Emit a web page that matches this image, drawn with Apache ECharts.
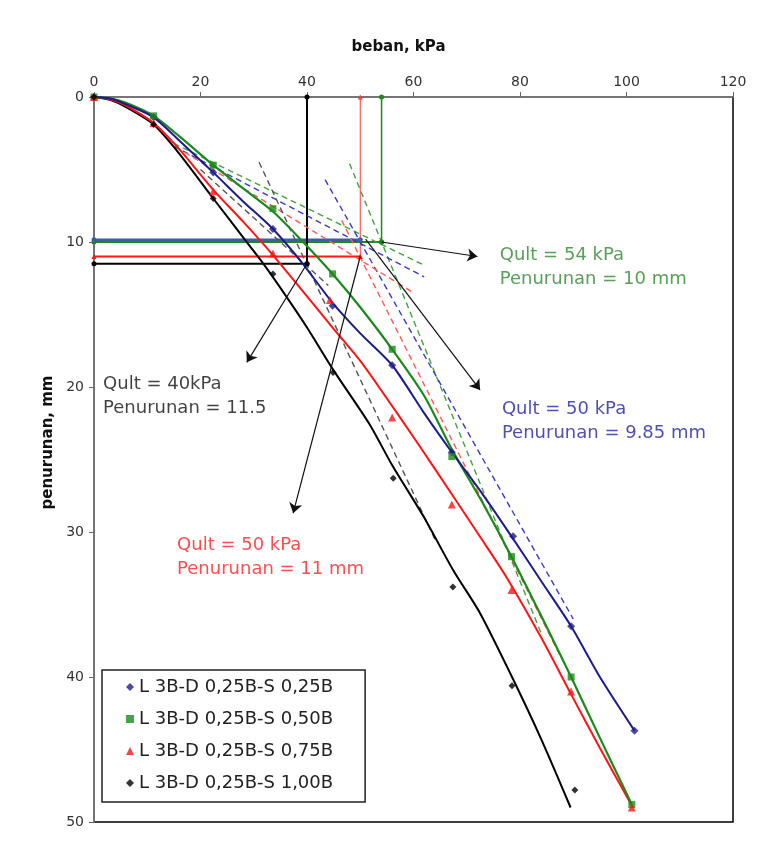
<!DOCTYPE html>
<html><head><meta charset="utf-8">
<script src="https://cdn.jsdelivr.net/npm/echarts@6/dist/echarts.min.js"></script>
<style>html,body{margin:0;padding:0;background:#fff}#c{width:771px;height:855px}</style>
</head><body><div id="c"></div><script>
// ---- data ----
const seriesNames = ['L 3B-D 0,25B-S 0,25B','L 3B-D 0,25B-S 0,50B','L 3B-D 0,25B-S 0,75B','L 3B-D 0,25B-S 1,00B'];
const xTicks = [0,20,40,60,80,100,120];
const yTicks = [0,10,20,30,40,50];

// measured curves (load kPa, settlement mm)
const blueLine  = [[0,0],[3,0.1],[6,0.5],[11.2,1.4],[16,3.0],[22.4,5.2],[28,7.2],[33.6,9.1],[39,11.4],[44.8,14.2],[50,16.3],[56,18.5],[62,21.8],[67.2,24.5],[73,27.4],[78.4,30.3],[84,33.4],[89.6,36.5],[95,40.0],[101.5,43.7]];
const greenLine = [[0,0],[3,0.1],[6,0.4],[11.2,1.3],[16,2.7],[22.4,4.7],[28,6.3],[33.6,7.9],[39,9.9],[44.8,12.2],[50,14.5],[56,17.4],[62,20.6],[67.2,24.3],[73,28.0],[78.4,31.7],[84,35.8],[89.6,40.0],[95,44.2],[101,48.8]];
const redLine   = [[0,0],[3,0.15],[6,0.6],[11.2,1.8],[16,3.6],[22.4,6.4],[28,8.6],[33.6,10.9],[39,13.3],[44.8,15.9],[50,18.2],[53.7,20.1],[61.2,24.1],[67.2,27.4],[73,30.6],[77.6,33.2],[84,37.3],[89.6,41.2],[95,44.9],[101.2,49]];
const blackLine = [[0,0],[3,0.2],[6,0.7],[11.2,1.9],[16,3.9],[22.4,7.0],[29.3,10.3],[32,11.6],[36,13.7],[40,15.9],[44.9,18.8],[51.8,22.6],[56,25.4],[62,29.0],[67.4,32.6],[72.5,35.6],[78.5,40.0],[84,44.3],[89.5,49]];

const blueMarks  = [[0,0],[11.2,1.4],[22.4,5.2],[33.6,9.1],[44.8,14.4],[56,18.5],[67.2,24.5],[78.7,30.3],[89.6,36.5],[101.5,43.7]];
const greenMarks = [[0,0],[11.2,1.3],[22.4,4.7],[33.6,7.7],[44.8,12.2],[56,17.4],[67.2,24.8],[78.4,31.7],[89.6,40],[101,48.8]];
const redMarks   = [[0,0],[11.2,1.8],[22.4,6.5],[33.6,10.8],[44.3,14.0],[56,22.1],[67.2,28.1],[78.4,34],[89.6,41],[101,49]];
const blackMarks = [[0,0],[11.2,1.9],[22.4,7],[33.6,12.2],[44.9,19],[56.2,26.3],[67.4,33.8],[78.5,40.6],[90.3,47.8]];

// tangent (dashed) construction lines
const greenShallow = [[15,3.2],[62,11.6]];
const greenSteep   = [[48,4.6],[84,37]];
const blueShallow  = [[15,3.4],[62,12.4]];
const blueSteep    = [[43.4,5.7],[90,36]];
const redShallow   = [[17,3.8],[60,13.5]];
const redSteep     = [[46.5,8.5],[87.5,38.5]];
const blackShallow = [[20,5],[44,13]];
const blackSteep   = [[31,4.5],[64,30.5]];

// ultimate load read-off (Qult kPa, settlement mm)
const qultGreen = [54, 10];
const qultBlue  = [50, 9.85];
const qultRed   = [50, 11];
const qultBlack = [40, 11.5];

// annotation arrows (from -> to)
const arrowGreen = [[54,10],[72,11]];
const arrowBlue  = [[51,9.8],[72.5,20.2]];
const arrowBlack = [[40,11.5],[28.7,18.3]];
const arrowRed   = [[50,11],[37.4,28.7]];

// annotation texts and anchors
const textGreen = 'Qult = 54 kPa\nPenurunan = 10 mm';
const textBlue  = 'Qult = 50 kPa\nPenurunan = 9.85 mm';
const textBlack = 'Qult = 40kPa\nPenurunan = 11.5';
const textRed   = 'Qult = 50 kPa\nPenurunan = 11 mm';
const anchorGreen = [76.2,10.1];
const anchorBlue  = [76.6,20.7];
const anchorBlack = [1.7,19.0];
const anchorRed   = [15.6,30.1];

// ---- styles ----
const FONT = 'DejaVu Sans';
const C = {blue:'#1c1c8c', green:'#1a8a1a', red:'#ff1414', black:'#000000', refBlue:'#3b5ea8'};

function lineS(data, color, width){
  return {type:'line', data, showSymbol:false, symbol:'none', silent:true, z:3, smooth:0.25,
    lineStyle:{color, width}, legendHoverLink:false};
}
function dashS(data, color){
  return {type:'line', data, showSymbol:false, symbol:'none', silent:true, z:2,
    lineStyle:{color, width:1.4, type:[6,4]}};
}
function refS(data, color, width, sym){
  return {type:'line', data, symbol:sym||'circle', symbolSize:5, showSymbol:true, silent:true, z:2,
    itemStyle:{color}, lineStyle:{color, width}};
}
function markS(name, data, color, symbol, size){
  return {type:'scatter', name, data, symbol, symbolSize:size, z:4, itemStyle:{color}};
}
function arrowS(coords){
  return {type:'lines', coordinateSystem:'cartesian2d', silent:true, z:5,
    data:[{coords}], symbol:['none','arrow'], symbolSize:10,
    lineStyle:{color:'#111', width:1.2, opacity:1}};
}
function textS(anchor, txt, color){
  return {type:'scatter', data:[anchor], symbolSize:0, silent:true, z:6,
    label:{show:true, position:[0,0], align:'left', verticalAlign:'top', formatter:txt,
      color, fontSize:18, lineHeight:24, fontFamily:FONT}};
}

const chart = echarts.init(document.getElementById('c'), null, {renderer:'canvas'});
chart.setOption({
  backgroundColor:'#fff',
  animation:false,
  grid:{left:94, top:97, right:38, bottom:33, show:true, borderColor:'#000', borderWidth:1.5, backgroundColor:'#fff'},
  xAxis:{type:'value', position:'top', min:xTicks[0], max:xTicks[xTicks.length-1], interval:20,
    name:'beban, kPa', nameLocation:'middle', nameGap:42,
    nameTextStyle:{fontFamily:FONT, fontWeight:'bold', fontSize:15, color:'#111', padding:[0,30,0,0]},
    axisLine:{show:true, onZero:false, lineStyle:{color:'#888', width:1.5}},
    axisTick:{show:true, length:5, lineStyle:{color:'#666'}},
    axisLabel:{fontFamily:FONT, fontSize:14, color:'#333', margin:8},
    splitLine:{show:false}},
  yAxis:{type:'value', inverse:true, min:yTicks[0], max:yTicks[yTicks.length-1], interval:10,
    name:'penurunan, mm', nameLocation:'middle', nameGap:38,
    nameTextStyle:{fontFamily:FONT, fontWeight:'bold', fontSize:15, color:'#111', padding:[0,0,0,34]},
    axisLine:{show:true, onZero:false, lineStyle:{color:'#888', width:1.5}},
    axisTick:{show:true, length:5, lineStyle:{color:'#666'}},
    axisLabel:{fontFamily:FONT, fontSize:14, color:'#333', margin:10},
    splitLine:{show:false}},
  legend:{data:seriesNames, orient:'vertical', left:102, top:670,
    padding:[8,32,10,24], itemGap:14, itemWidth:8, itemHeight:8,
    backgroundColor:'#fff', borderColor:'#222', borderWidth:1.5,
    textStyle:{fontFamily:FONT, fontSize:18, color:'#222'}},
  series:[
    refS([[qultGreen[0],0],[qultGreen[0],qultGreen[1]]], C.green, 1.5),
    refS([[0,qultGreen[1]],[qultGreen[0],qultGreen[1]]], C.green, 2),
    refS([[qultRed[0],0],[qultRed[0],qultRed[1]]], '#ff3a3a', 1, 'triangle'),
    refS([[0,qultRed[1]],[qultRed[0],qultRed[1]]], C.red, 2, 'triangle'),
    refS([[0,qultBlue[1]],[qultBlue[0],qultBlue[1]]], C.refBlue, 2.5),
    refS([[qultBlack[0],0],[qultBlack[0],qultBlack[1]]], C.black, 2),
    refS([[0,qultBlack[1]],[qultBlack[0],qultBlack[1]]], C.black, 2),
    dashS(greenShallow, '#3fa53f'), dashS(greenSteep, '#3fa53f'),
    dashS(blueShallow, '#3a3ac8'), dashS(blueSteep, '#3a3ac8'),
    dashS(redShallow, '#ff5a5a'), dashS(redSteep, '#ff5a5a'),
    dashS(blackShallow, '#555'), dashS(blackSteep, '#555'),
    lineS(blackLine, C.black, 2),
    lineS(redLine, C.red, 2),
    lineS(greenLine, C.green, 2.2),
    lineS(blueLine, C.blue, 2),
    markS(seriesNames[0], blueMarks, C.blue, 'diamond', 8),
    markS(seriesNames[1], greenMarks, C.green, 'rect', 7),
    markS(seriesNames[2], redMarks, C.red, 'triangle', 8),
    markS(seriesNames[3], blackMarks, C.black, 'diamond', 7),
    arrowS(arrowGreen), arrowS(arrowBlue), arrowS(arrowBlack), arrowS(arrowRed),
    textS(anchorGreen, textGreen, '#2a8a2a'),
    textS(anchorBlue, textBlue, '#2222a8'),
    textS(anchorBlack, textBlack, '#111'),
    textS(anchorRed, textRed, '#ff2020')
  ]
});
</script></body></html>
